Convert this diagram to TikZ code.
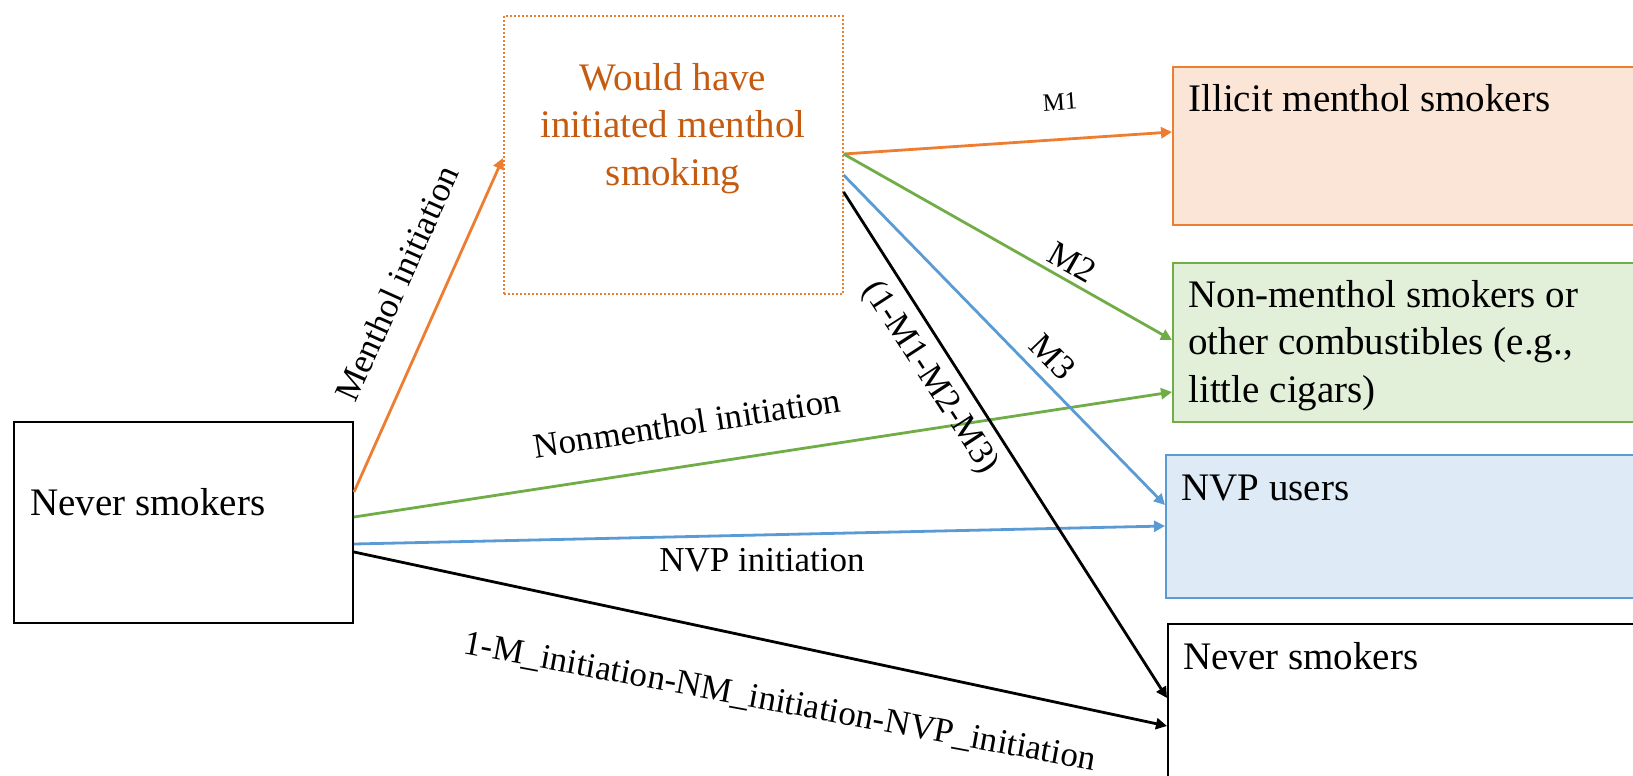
\documentclass[tikz,border=0pt]{standalone}
\usepackage{fontspec}
\setmainfont{Liberation Serif}
\usetikzlibrary{arrows.meta}
\definecolor{orA}{HTML}{ED7D31}
\definecolor{orT}{HTML}{C55A11}
\definecolor{grA}{HTML}{70AD47}
\definecolor{blA}{HTML}{5B9BD5}
\definecolor{orF}{HTML}{FBE5D6}
\definecolor{grF}{HTML}{E2F0D9}
\definecolor{blF}{HTML}{DEEBF7}
\tikzset{
  boxs/.style={draw, line width=1pt, inner sep=0pt, anchor=north west},
  maintxt/.style={font=\fontsize{19.5}{23.6}\selectfont, inner sep=0pt},
  lbl/.style={font=\fontsize{17.5}{21}\selectfont, inner sep=0pt},
  conn/.style={line width=1.4pt, -{Triangle[length=5.5pt,width=5.5pt]}},
}
\begin{document}
\begin{tikzpicture}[x=0.5pt,y=-0.5pt]
\path[use as bounding box] (0,0) rectangle (1633,776);
\clip (0,0) rectangle (1633,776);
% boxes
\node[boxs, minimum width=169.5pt, minimum height=100.5pt] (nl) at (13,421) {};
\node[boxs, draw=orA, dash pattern=on 1pt off 1pt, line width=0.8pt, minimum width=169.5pt, minimum height=139pt] (wb) at (503,15) {};
\node[boxs, draw=orA, fill=orF, minimum width=234pt, minimum height=79pt] (il) at (1172,66) {};
\node[boxs, draw=grA, fill=grF, minimum width=234pt, minimum height=79.5pt] (nm) at (1172,262) {};
\node[boxs, draw=blA, fill=blF, minimum width=237.5pt, minimum height=71.5pt] (nv) at (1165,454) {};
\node[boxs, minimum width=236.5pt, minimum height=83.5pt] (nr) at (1167,623) {};
% box texts
\node[maintxt, anchor=base west] (tnl) at (30,515) {Never smokers};
\node[maintxt, anchor=base, align=center, text=orT] (twb) at (673,185) {Would have\\initiated menthol\\smoking};
\node[maintxt, anchor=base west] (til) at (1188,111) {Illicit menthol smokers};
\node[maintxt, anchor=base west, align=left] (tnm) at (1188,402) {Non-menthol smokers or\\other combustibles (e.g.,\\little cigars)};
\node[maintxt, anchor=base west] (tnv) at (1181,500) {NVP users};
\node[maintxt, anchor=base west] (tnr) at (1183,669) {Never smokers};
% connectors
\draw[conn, orA] ([yshift=-35.5pt]nl.north east) -- ([yshift=-71.5pt]wb.north west);
\draw[conn, grA] ([yshift=-48pt]nl.north east) -- ([yshift=-65pt]nm.north west);
\draw[conn, blA] ([yshift=-61.5pt]nl.north east) -- ([yshift=-36pt]nv.north west);
\draw[conn, black] ([yshift=-65.5pt]nl.north east) -- ([yshift=-51.5pt]nr.north west);
\draw[conn, orA] ([yshift=-69.5pt]wb.north east) -- ([yshift=-33pt]il.north west);
\draw[conn, grA] ([yshift=-69.5pt]wb.north east) -- ([yshift=-39pt]nm.north west);
\draw[conn, blA] ([yshift=-80pt]wb.north east) -- ([yshift=-25.5pt]nv.north west);
\draw[conn, black] ([yshift=-88.5pt]wb.north east) -- ([yshift=-37.5pt]nr.north west);
% labels
\node[lbl, rotate=65.7] (lmi) at (397,283) {Menthol initiation};
\node[lbl, rotate=8.7] (lnm) at (687,423) {Nonmenthol initiation};
\node[lbl] (lnv) at (762,560) {NVP initiation};
\node[lbl, anchor=base, rotate=-10.5] (l1m) at (778,712) {1-M\_initiation-NM\_initiation-NVP\_initiation};
\node[font=\fontsize{12.5}{15}\selectfont, inner sep=0pt, rotate=4] (lm1) at (1060,102) {M1};
\node[lbl, rotate=-29.5] (lm2) at (1072,262) {M2};
\node[lbl, rotate=-46] (lm3) at (1053,357) {M3};
\node[lbl, rotate=-57] (lrest) at (930,378) {(1-M1-M2-M3)};
\end{tikzpicture}
\end{document}
